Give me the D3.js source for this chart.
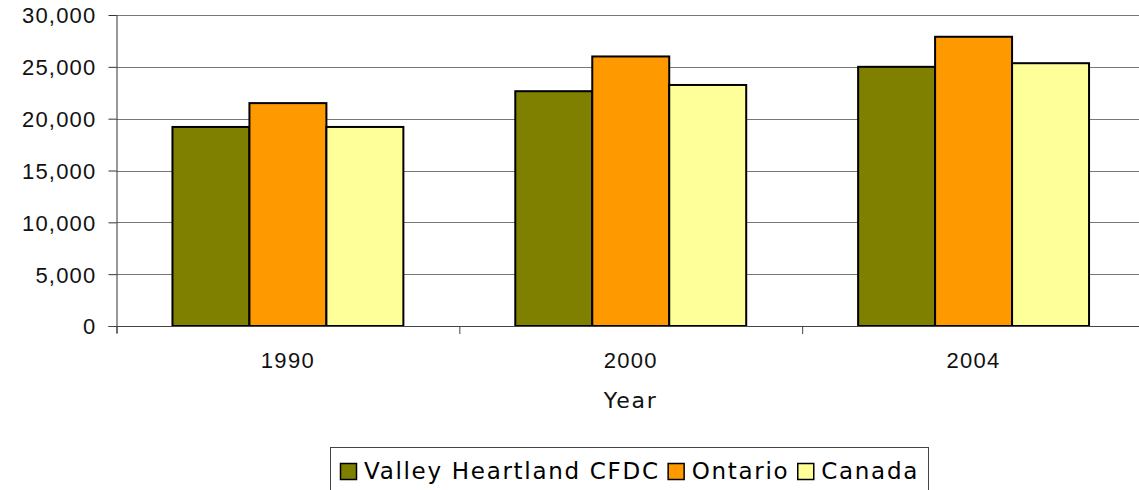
<!DOCTYPE html>
<html>
<head>
<meta charset="utf-8">
<script src="https://cdn.jsdelivr.net/npm/d3@7"></script>
<style>
  html, body { margin: 0; padding: 0; background: #fff; }
  svg { display: block; font-family: "DejaVu Sans", Verdana, sans-serif; }
</style>
</head>
<body>
<svg id="chart" width="1139" height="490"></svg>
<script>
const years = ["1990", "2000", "2004"];
const seriesNames = ["Valley Heartland CFDC", "Ontario", "Canada"];
const valley = [19200, 22650, 25000];
const ontario = [21500, 26000, 27900];
const canada = [19200, 23250, 25350];
const yTicks = [0, 5000, 10000, 15000, 20000, 25000, 30000];
const xTitle = "Year";
const colors = ["#808000", "#FF9900", "#FFFF99"];

const seriesValues = [valley, ontario, canada];

const svg = d3.select("#chart");
const mLeft = 116.5, mRight = 1145, mTop = 15, mBottom = 326;

const x = d3.scaleBand().domain(years).range([mLeft, mRight]).padding(0);
const xs = d3.scaleBand().domain(seriesNames).range([0, x.bandwidth()])
  .paddingInner(0).paddingOuter(0.727);
const y = d3.scaleLinear().domain([0, 30000]).range([mBottom, mTop]);

// gridlines
svg.append("g").selectAll("line")
  .data(yTicks.filter(d => d > 0))
  .join("line")
  .attr("x1", mLeft).attr("x2", mRight)
  .attr("y1", d => Math.round(y(d)) + 0.5).attr("y2", d => Math.round(y(d)) + 0.5)
  .attr("stroke", "#777").attr("stroke-width", 1);

// bars
const groups = svg.append("g").selectAll("g")
  .data(years)
  .join("g")
  .attr("transform", d => `translate(${x(d)},0)`);

groups.selectAll("rect")
  .data((d, i) => seriesNames.map((s, j) => ({ s, v: seriesValues[j][i], c: colors[j] })))
  .join("rect")
  .attr("x", d => xs(d.s))
  .attr("y", d => y(d.v))
  .attr("width", xs.bandwidth())
  .attr("height", d => y(0) - y(d.v))
  .attr("fill", d => d.c)
  .attr("stroke", "#000")
  .attr("stroke-width", 2);

// y axis
const yAxis = d3.axisLeft(y).tickValues(yTicks).tickSize(8).tickPadding(12)
  .tickFormat(d3.format(","));
const gy = svg.append("g").attr("transform", `translate(${mLeft},0)`).call(yAxis);
gy.select(".domain").attr("stroke", "#333").attr("d", `M0.5,${mTop}V${mBottom + 7}`);
gy.selectAll(".tick line").attr("stroke", "#333").attr("x2", -8);
gy.selectAll(".tick text").attr("font-size", 22).attr("fill", "#111")
  .style("letter-spacing", "1.2px").attr("dy", "0.36em");

// x axis
const xAxis = d3.axisBottom(x).tickSize(0).tickPadding(26);
const gx = svg.append("g").attr("transform", `translate(0,${mBottom})`).call(xAxis);
gx.select(".domain").attr("stroke", "#444").attr("d", `M${mLeft - 8},0.5H${mRight}`);
gx.selectAll(".tick text").attr("font-size", 22).attr("fill", "#111")
  .style("letter-spacing", "1.3px");
// category boundary ticks
svg.append("g").selectAll("line")
  .data(years)
  .join("line")
  .attr("x1", d => x(d) + 0.5).attr("x2", d => x(d) + 0.5)
  .attr("y1", mBottom).attr("y2", mBottom + 8)
  .attr("stroke", "#444");

// x title
svg.append("text")
  .attr("x", (mLeft + mRight) / 2).attr("y", 408)
  .attr("text-anchor", "middle")
  .attr("font-size", 22).attr("fill", "#111")
  .style("letter-spacing", "1.8px")
  .text(xTitle);

// legend
const lg = svg.append("g");
lg.append("rect").attr("x", 330.5).attr("y", 447.5).attr("width", 598).attr("height", 60)
  .attr("fill", "#fff").attr("stroke", "#444");
let lx = 340;
seriesNames.forEach((s, i) => {
  lg.append("rect").attr("x", lx + 0.5).attr("y", 463.5).attr("width", 16).attr("height", 16)
    .attr("fill", colors[i]).attr("stroke", "#000").attr("stroke-width", 1.5);
  const t = lg.append("text").attr("x", lx + 24).attr("y", 479)
    .attr("font-size", 23).attr("fill", "#000")
    .style("letter-spacing", "1.7px")
    .text(s);
  lx = lx + 24 + t.node().getComputedTextLength() + 8;
});
</script>
</body>
</html>
